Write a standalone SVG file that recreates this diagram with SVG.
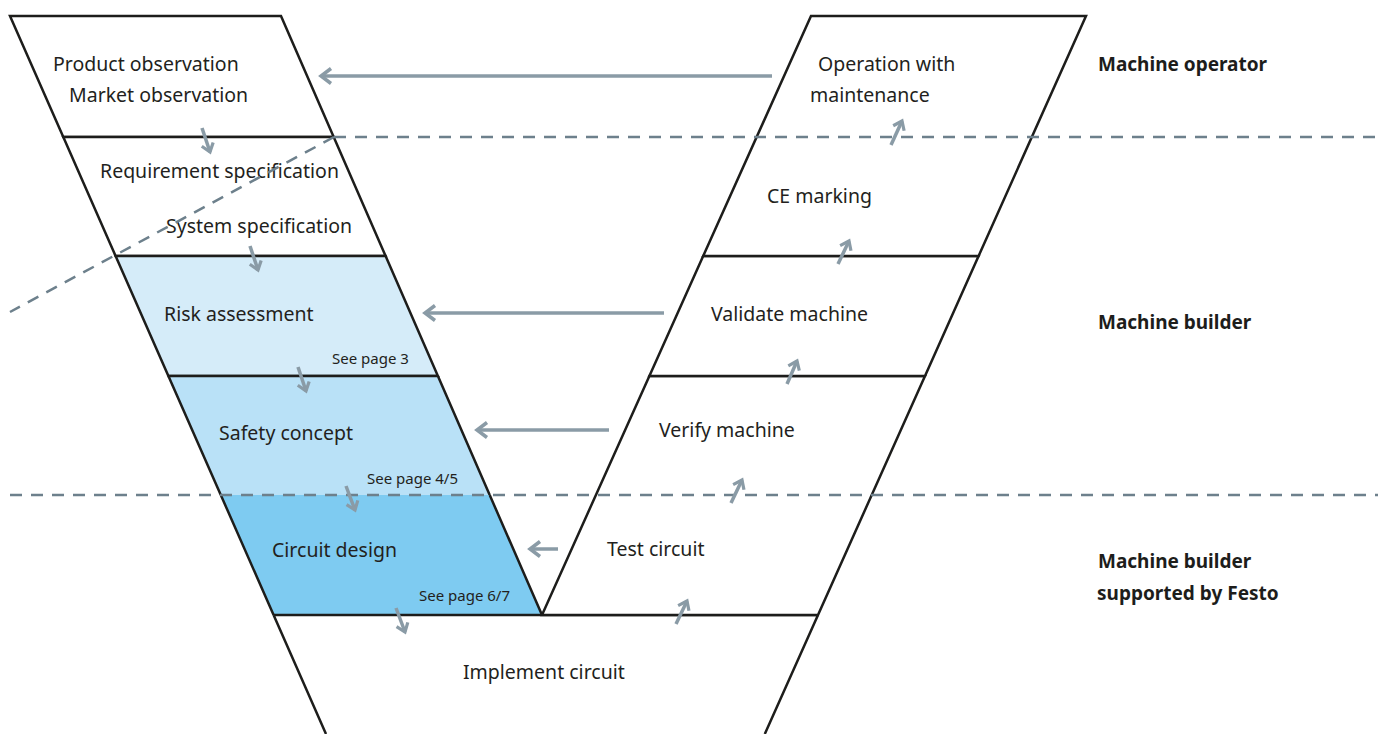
<svg xmlns="http://www.w3.org/2000/svg" width="1378" height="734" viewBox="0 0 1378 734">
  <style>
    .band { stroke: #1d1d1b; stroke-width: 2.5; stroke-linejoin: miter; }
    .plain { fill: #ffffff; }
    .risk { fill: #d5ecf9; }
    .safety { fill: #b9e1f7; }
    .circuit { fill: #7ecbf1; }
    .edge { fill: none; stroke: #1d1d1b; stroke-width: 2.5; }
    .lbl { font-family: "Noto Sans", "Open Sans", sans-serif; font-size: 19.5px; fill: #231f20; }
    .small { font-family: "Noto Sans", "Open Sans", sans-serif; font-size: 15px; fill: #231f20; }
    .role { font-family: "Noto Sans", "Open Sans", sans-serif; font-size: 19px; font-weight: bold; fill: #1d1d1b; }
    .lane { fill: none; stroke: #6d808c; stroke-width: 2.5; stroke-dasharray: 12 9; }
    .flow { fill: none; stroke: #8a9ba6; stroke-width: 3.5; }
    .step { fill: none; stroke: #8a9ba6; stroke-width: 3.5; }
  </style>
  <defs>
    <marker id="head" viewBox="0 0 12 18" refX="11" refY="9" markerWidth="12" markerHeight="18" markerUnits="userSpaceOnUse" orient="auto" overflow="visible">
      <path d="M1,1.5 L11,9 L1,16.5" fill="none" stroke="#8a9ba6" stroke-width="3.5"/>
    </marker>
    <marker id="headSmall" viewBox="0 0 10 14" refX="9" refY="7" markerWidth="10" markerHeight="14" markerUnits="userSpaceOnUse" orient="auto" overflow="visible">
      <path d="M1,1 L9,7 L1,13" fill="none" stroke="#8a9ba6" stroke-width="3.2"/>
    </marker>
  </defs>

  <rect width="1378" height="734" fill="#ffffff"/>

  <!-- left branch of the V: specification and design phases -->
  <g id="node-observation">
    <polygon class="band plain" points="10,16 281,16 333.7,137 63.3,137"/>
    <text class="lbl" x="53" y="71">Product observation</text>
    <text class="lbl" x="69" y="102">Market observation</text>
  </g>
  <g id="node-specification">
    <polygon class="band plain" points="63.3,137 333.7,137 385.6,256 115.6,256"/>
    <text class="lbl" x="100" y="178">Requirement specification</text>
    <text class="lbl" x="166" y="233">System specification</text>
  </g>
  <g id="node-risk">
    <polygon class="band risk" points="115.6,256 385.6,256 437.9,376 168.4,376"/>
    <text class="lbl" x="164" y="321">Risk assessment</text>
    <text class="small" x="332" y="364">See page 3</text>
  </g>
  <g id="node-safety">
    <polygon class="safety" points="168.4,376 437.9,376 489.7,495 220.8,495"/>
    <path class="edge" d="M168.4,376 L220.8,495 M437.9,376 L489.7,495 M168.4,376 L437.9,376"/>
    <text class="lbl" x="219" y="440">Safety concept</text>
    <text class="small" x="367" y="484">See page 4/5</text>
  </g>
  <g id="node-circuit-design">
    <polygon class="circuit" points="220.8,495 489.7,495 542,615 273.6,615"/>
    <path class="edge" d="M220.8,495 L273.6,615 M489.7,495 L542,615"/>
    <text class="lbl" x="272" y="557">Circuit design</text>
    <text class="small" x="419" y="601">See page 6/7</text>
  </g>

  <!-- base of the V -->
  <g id="node-implement">
    <path class="edge" d="M273.6,615 L818,615 M273.6,615 L326,734 M818,615 L764.8,734"/>
    <text class="lbl" x="463" y="679">Implement circuit</text>
  </g>

  <!-- right branch of the V: test, verification and operation -->
  <g id="node-test">
    <polygon class="band plain" points="542,615 649.4,376 925,376 818,615"/>
    <text class="lbl" x="607" y="556">Test circuit</text>
    <text class="lbl" x="659" y="437">Verify machine</text>
  </g>
  <g id="node-validate">
    <polygon class="band plain" points="649.4,376 703.2,256 978.6,256 925,376"/>
    <text class="lbl" x="711" y="321">Validate machine</text>
  </g>
  <g id="node-operation">
    <polygon class="band plain" points="703.2,256 811,16 1086,16 978.6,256"/>
    <text class="lbl" x="767" y="203">CE marking</text>
    <text class="lbl" x="818" y="71">Operation with</text>
    <text class="lbl" x="810" y="102">maintenance</text>
  </g>

  <!-- responsibility lanes -->
  <g id="lanes">
    <path class="lane" d="M334,137 L1378,137"/>
    <path class="lane" d="M10,495 L1378,495"/>
    <path class="lane" d="M334,137 L10,312"/>
    <text class="role" x="1098" y="71">Machine operator</text>
    <text class="role" x="1098" y="329">Machine builder</text>
    <text class="role" x="1098" y="568">Machine builder</text>
    <text class="role" x="1097" y="600">supported by Festo</text>
  </g>

  <!-- connectors -->
  <g id="connectors">
    <path class="flow" d="M772,76 L321,76" marker-end="url(#head)"/>
    <path class="flow" d="M664,313 L425,313" marker-end="url(#head)"/>
    <path class="flow" d="M609,430 L477,430" marker-end="url(#head)"/>
    <path class="flow" d="M558,549 L530,549" marker-end="url(#head)"/>

    <path class="step" d="M202,128 L210,152" marker-end="url(#headSmall)"/>
    <path class="step" d="M250,246 L258,270" marker-end="url(#headSmall)"/>
    <path class="step" d="M298,367 L306,391" marker-end="url(#headSmall)"/>
    <path class="step" d="M346,486 L355,510" marker-end="url(#headSmall)"/>
    <path class="step" d="M396,608 L405,632" marker-end="url(#headSmall)"/>

    <path class="step" d="M676,624 L687,601" marker-end="url(#headSmall)"/>
    <path class="step" d="M731,503 L742,480" marker-end="url(#headSmall)"/>
    <path class="step" d="M787,384 L797,361" marker-end="url(#headSmall)"/>
    <path class="step" d="M838,264 L849,241" marker-end="url(#headSmall)"/>
    <path class="step" d="M891,145 L902,121" marker-end="url(#headSmall)"/>
  </g>
</svg>
